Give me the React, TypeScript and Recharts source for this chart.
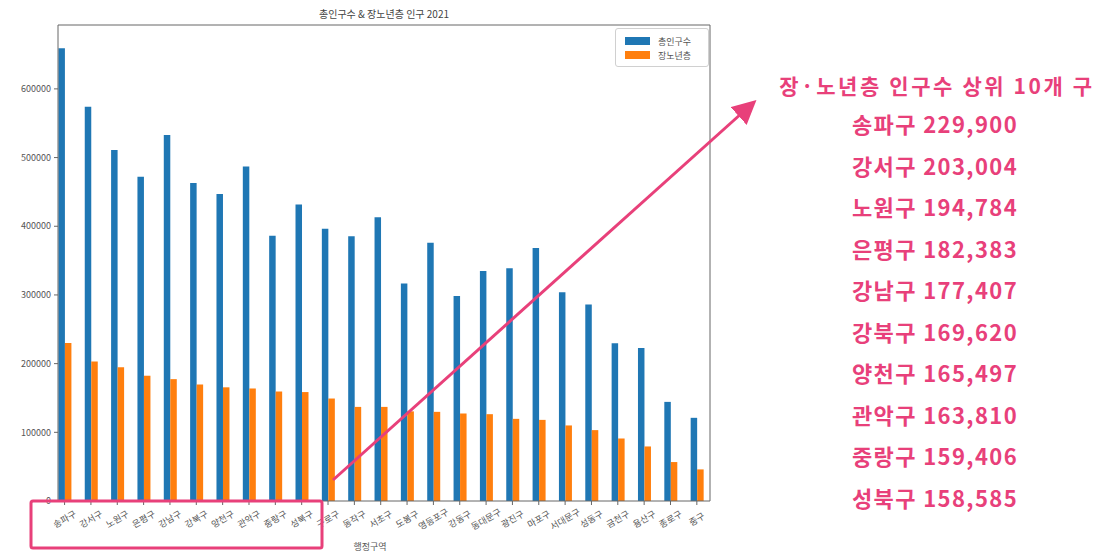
import React from 'react';
import { BarChart, Bar, XAxis, YAxis, Legend, ReferenceLine } from 'recharts';

const districts = [
  '송파구', '강서구', '노원구', '은평구', '강남구', '강북구', '양천구', '관악구', '중랑구', '성북구',
  '구로구', '동작구', '서초구', '도봉구', '영등포구', '강동구', '동대문구', '광진구', '마포구', '서대문구',
  '성동구', '금천구', '용산구', '종로구', '중구',
];

const totalPop = [
  659000, 574000, 511000, 472000, 533000, 463000, 447000, 487000, 386000, 431500,
  396500, 385500, 413000, 316500, 376000, 298500, 335000, 339000, 368500, 304000,
  286000, 229500, 222800, 144300, 121100,
];

const elderPop = [
  229900, 203004, 194784, 182383, 177407, 169620, 165497, 163810, 159406, 158585,
  149200, 137000, 137000, 130500, 129800, 127400, 126400, 119600, 118100, 110000,
  103200, 91000, 79400, 56700, 46000,
];

const yTicks = [0, 100000, 200000, 300000, 400000, 500000, 600000];
const seriesNames = ['총인구수', '장노년층'];

const BLUE = '#1f77b4';
const ORANGE = '#ff7f0e';
const PINK = '#e8407a';
const FONT = '"Noto Sans CJK KR", "Noto Sans", sans-serif';

const rows = districts.map((name, i) => ({
  idx: i,
  name,
  total: totalPop[i],
  elder: elderPop[i],
}));

const XTick = (props: any) => {
  const { x, y, payload } = props;
  const label = districts[payload.value] ?? '';
  const cy = y + 12;
  return (
    <text
      x={x}
      y={cy}
      transform={`rotate(-30, ${x}, ${cy})`}
      textAnchor="middle"
      dominantBaseline="central"
      fontSize={9}
      fill="#555"
      fontFamily={FONT}
    >
      {label}
    </text>
  );
};

const LegendBox = () => (
  <div
    style={{
      border: '1px solid #d0d0d0',
      borderRadius: 3,
      background: 'rgba(255,255,255,0.85)',
      padding: '5px 6px 4px 9px',
      fontFamily: FONT,
      fontSize: 9,
      color: '#555',
      boxSizing: 'border-box',
      width: 94,
    }}
  >
    {seriesNames.map((n, i) => (
      <div key={n} style={{ display: 'flex', alignItems: 'center', height: 14 }}>
        <span
          style={{
            display: 'inline-block',
            width: 25,
            height: 8,
            background: i === 0 ? BLUE : ORANGE,
            marginRight: 8,
          }}
        />
        {n}
      </div>
    ))}
  </div>
);

export default function App() {
  return (
    <div
      style={{
        position: 'absolute',
        left: 0,
        top: 0,
        width: 1099,
        height: 556,
        background: '#fff',
        overflow: 'hidden',
        fontFamily: FONT,
      }}
    >
      <div
        style={{
          position: 'absolute',
          left: 284,
          width: 200,
          top: 6,
          textAlign: 'center',
          fontSize: 10,
          color: '#444',
        }}
      >
        총인구수 &amp; 장노년층 인구 2021
      </div>

      <BarChart
        width={1099}
        height={556}
        data={rows}
        margin={{ top: 25, right: 389, bottom: 10, left: 0 }}
        barGap={0}
        style={{ position: 'absolute', left: 0, top: 0 }}
      >
        <XAxis
          type="number"
          dataKey="idx"
          domain={[-0.25, 24.5]}
          ticks={rows.map((r) => r.idx)}
          interval={0}
          height={45}
          tickSize={4}
          tickMargin={2}
          stroke="#666"
          tickLine={{ stroke: '#666' }}
          tick={<XTick />}
        />
        <YAxis
          type="number"
          domain={[0, 693000]}
          ticks={yTicks}
          width={58}
          tickSize={4}
          tickMargin={3}
          stroke="#666"
          tick={{ fontSize: 9, fill: '#555', fontFamily: FONT }}
        />
        <ReferenceLine x={24.5} stroke="#666" ifOverflow="visible" />
        <ReferenceLine y={693000} stroke="#666" ifOverflow="visible" />
        <Legend
          layout="vertical"
          align="center"
          verticalAlign="middle"
          content={<LegendBox />}
          wrapperStyle={{ left: 615, top: 28, width: 94 }}
        />
        <Bar dataKey="total" name={seriesNames[0]} fill={BLUE} barSize={6.5} isAnimationActive={false} />
        <Bar dataKey="elder" name={seriesNames[1]} fill={ORANGE} barSize={6.5} isAnimationActive={false} />
      </BarChart>

      <div
        style={{
          position: 'absolute',
          left: 330,
          top: 540,
          width: 80,
          textAlign: 'center',
          fontSize: 9,
          color: '#555',
        }}
      >
        행정구역
      </div>

      <svg
        width={1099}
        height={556}
        style={{ position: 'absolute', left: 0, top: 0, pointerEvents: 'none' }}
      >
        <defs>
          <marker id="arrowHead" markerWidth="8" markerHeight="8" refX="6" refY="4" orient="auto" markerUnits="strokeWidth">
            <path d="M0,0 L8,4 L0,8 Z" fill={PINK} />
          </marker>
        </defs>
        <rect x={31} y={501} width={291} height={47} rx={2} fill="none" stroke={PINK} strokeWidth={3} />
        <line x1={333} y1={480} x2={752} y2={104} stroke={PINK} strokeWidth={3} markerEnd="url(#arrowHead)" />
      </svg>

      <div
        style={{
          position: 'absolute',
          left: 770,
          top: 70,
          width: 334,
          textAlign: 'center',
          color: PINK,
          fontWeight: 700,
          fontSize: 21,
          letterSpacing: 2.6,
          lineHeight: '30px',
        }}
      >
        장·노년층 인구수 상위 10개 구
      </div>
      {districts.slice(0, 10).map((d, i) => (
        <div
          key={d}
          style={{
            position: 'absolute',
            left: 785,
            top: 108 + i * 41.5,
            width: 300,
            textAlign: 'center',
            color: PINK,
            fontWeight: 700,
            fontSize: 22,
            letterSpacing: 1.4,
            lineHeight: '30px',
          }}
        >
          {d} {elderPop[i].toLocaleString('en-US')}
        </div>
      ))}
    </div>
  );
}
